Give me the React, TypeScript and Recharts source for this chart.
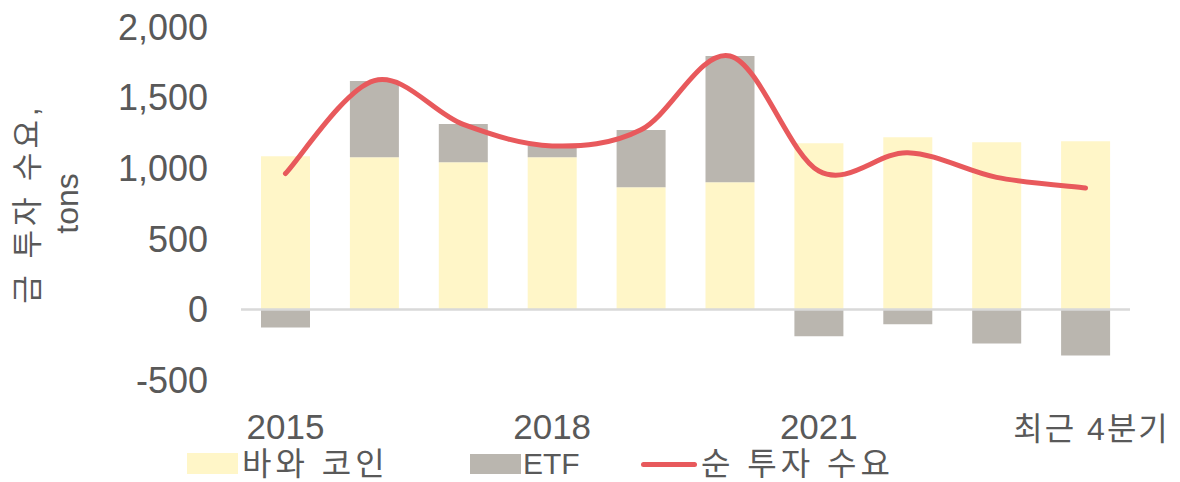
import {
  Bar,
  ComposedChart,
  Label,
  Line,
  ReferenceLine,
  XAxis,
  YAxis,
} from 'recharts';

// categories and series values (tons)
const categories = ['2015', '2016', '2017', '2018', '2019', '2020', '2021', '2022', '2023', '최근 4분기'];
const barCoin = [1085, 1078, 1043, 1078, 865, 901, 1177, 1220, 1184, 1191];
const etf = [-128, 540, 270, 85, 405, 893, -191, -106, -241, -326];
const netDemand = [962, 1620, 1310, 1158, 1272, 1795, 980, 1110, 935, 860];
const yTicks = [-500, 0, 500, 1000, 1500, 2000];

const TEXT = '#595959';
const YELLOW = '#FFF6C8';
const GRAY = '#BAB6AF';
const RED = '#E8595C';
const LATIN = '"Liberation Sans", Arial, sans-serif';
const KOREAN = '"Liberation Sans", "Noto Sans CJK KR", sans-serif';

const data = categories.map((c, i) => ({
  name: c,
  coin: barCoin[i],
  etf: etf[i],
  net: netDemand[i],
}));

// spreadsheet-style smoothed line: uniform Catmull-Rom turned into cubic beziers
function smoothCurve(context: any) {
  let pts: [number, number][] = [];
  return {
    areaStart() {},
    areaEnd() {},
    lineStart() {
      pts = [];
    },
    point(x: number, y: number) {
      pts.push([+x, +y]);
    },
    lineEnd() {
      if (!pts.length) return;
      context.moveTo(pts[0][0], pts[0][1]);
      for (let i = 0; i < pts.length - 1; i++) {
        const p0 = pts[Math.max(0, i - 1)];
        const p1 = pts[i];
        const p2 = pts[i + 1];
        const p3 = pts[Math.min(pts.length - 1, i + 2)];
        context.bezierCurveTo(
          p1[0] + (p2[0] - p0[0]) / 6,
          p1[1] + (p2[1] - p0[1]) / 6,
          p2[0] - (p3[0] - p1[0]) / 6,
          p2[1] - (p3[1] - p1[1]) / 6,
          p2[0],
          p2[1],
        );
      }
    },
  };
}

function XTick({ x, y, payload }: any) {
  const isYear = /^\d{4}$/.test(payload.value);
  return (
    <text
      x={isYear ? x : x + 6}
      y={y + (isYear ? 59 : 60)}
      textAnchor="middle"
      fill={TEXT}
      fontSize={isYear ? 35 : 32}
      fontFamily={isYear ? LATIN : KOREAN}
      letterSpacing={isYear ? 0 : 2}
    >
      {payload.value}
    </text>
  );
}

function YTitle({ viewBox }: any) {
  const cy = viewBox.y + viewBox.height / 2;
  return (
    <g fill={TEXT}>
      <text
        transform={`translate(27, ${cy}) rotate(-90)`}
        textAnchor="middle"
        dominantBaseline="central"
        fontSize={31}
        fontFamily={KOREAN}
        letterSpacing={4}
      >
        금 투자 수요,
      </text>
      <text
        transform={`translate(67, ${cy}) rotate(-90)`}
        textAnchor="middle"
        dominantBaseline="central"
        fontSize={32}
        fontFamily={LATIN}
      >
        tons
      </text>
    </g>
  );
}

const legendText = {
  position: 'absolute' as const,
  top: 446,
  lineHeight: '36px',
  fontSize: 32,
  color: TEXT,
  fontFamily: KOREAN,
  letterSpacing: 4,
  whiteSpace: 'nowrap' as const,
};

export default function App() {
  return (
    <div style={{ position: 'absolute', left: 0, top: 0, width: 1180, height: 482, background: '#fff' }}>
      <ComposedChart
        width={1180}
        height={482}
        data={data}
        stackOffset="sign"
        margin={{ top: 27, right: 50, left: 0, bottom: 0 }}
      >
        <XAxis
          dataKey="name"
          interval={2}
          axisLine={false}
          tickLine={false}
          tickSize={0}
          tickMargin={0}
          height={102}
          tick={<XTick />}
        />
        <YAxis
          domain={[-500, 2000]}
          ticks={yTicks}
          width={241}
          axisLine={false}
          tickLine={false}
          tickSize={0}
          tickMargin={33}
          tickFormatter={(v) => v.toLocaleString('en-US')}
          tick={{ fontSize: 36, fill: TEXT, fontFamily: LATIN }}
        >
          <Label content={<YTitle />} />
        </YAxis>
        <Bar dataKey="coin" stackId="a" fill={YELLOW} barSize={49} isAnimationActive={false} />
        <Bar dataKey="etf" stackId="a" fill={GRAY} barSize={49} isAnimationActive={false} />
        <ReferenceLine y={0} stroke="#D9D9D9" strokeWidth={2.5} />
        <Line
          dataKey="net"
          type={smoothCurve as any}
          stroke={RED}
          strokeWidth={5}
          strokeLinecap="round"
          dot={false}
          activeDot={false}
          isAnimationActive={false}
        />
      </ComposedChart>

      <div style={{ position: 'absolute', left: 187, top: 453, width: 51, height: 21, background: YELLOW }} />
      <div style={{ ...legendText, left: 242 }}>바와 코인</div>
      <div style={{ position: 'absolute', left: 470, top: 454, width: 51, height: 20, background: GRAY }} />
      <div style={{ ...legendText, left: 523, fontFamily: LATIN, letterSpacing: 0, fontSize: 30 }}>ETF</div>
      <div style={{ position: 'absolute', left: 641, top: 462, width: 56, height: 5, borderRadius: 3, background: RED }} />
      <div style={{ ...legendText, left: 701 }}>순 투자 수요</div>
    </div>
  );
}
